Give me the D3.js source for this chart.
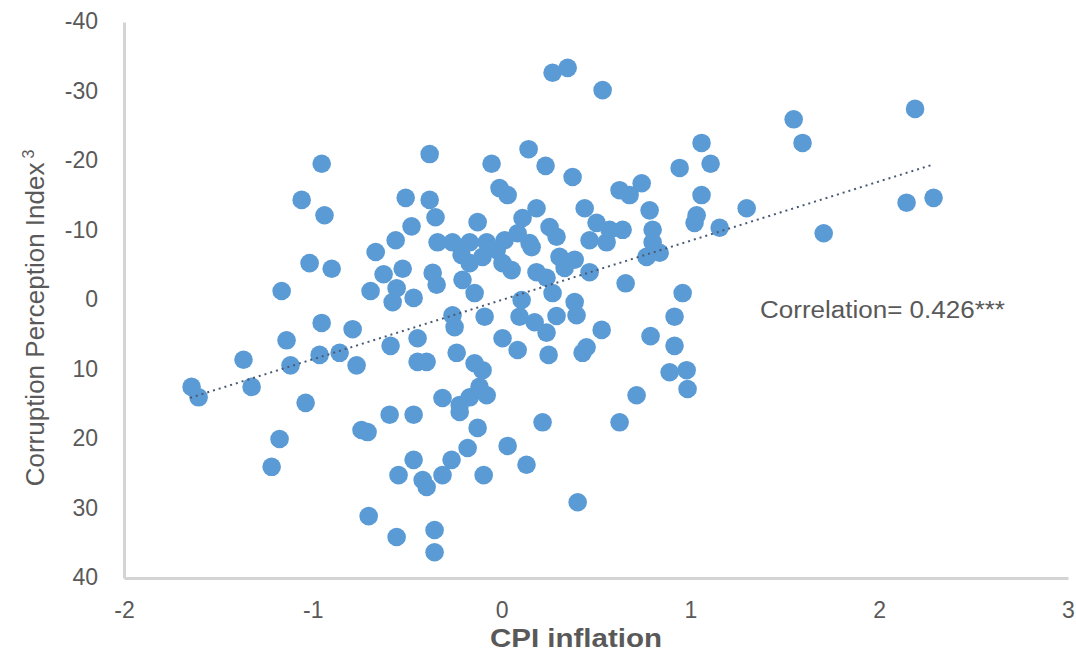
<!DOCTYPE html>
<html>
<head>
<meta charset="utf-8">
<script src="https://cdn.jsdelivr.net/npm/d3@7"></script>
<style>
  html, body { margin: 0; padding: 0; background: #ffffff; }
  svg { display: block; }
  text { font-family: "Liberation Sans", Arial, sans-serif; fill: #595959; }
</style>
</head>
<body>
<div id="chart"></div>
<script>
// ---- data ----
const cpiInflation = [
  0.27, 0.35, 0.535, 2.19, 1.547, 1.594, 1.059, 0.143, -0.381, -0.953,
  -0.053, 0.233, 1.107, 0.943, 0.376, 0.742, 0.625, 0.678, -0.011, 0.032,
  -0.508, -1.059, -0.381, 1.298, 2.145, 2.288, 1.059, -0.938, -0.350, 0.440,
  0.185, 0.111, -0.127, 0.784, 1.033, 1.022, 1.155, 1.706, -0.477, -0.561,
  -0.339, -0.260, -0.169, -0.079, 0.085, 0.148, 0.254, 0.291, 0.503, 0.572,
  0.556, 0.466, 0.641, 0.800, 0.800, -0.667, -1.017, -0.900, -0.625, -0.524,
  -0.365, -0.344, -1.165, -0.694, -0.556, -0.577, -0.466, -0.953, -0.260, -0.169,
  -0.101, 0.005, 0.053, 0.159, 0.307, 0.387, 0.185, 0.238, 0.466, 0.768,
  0.837, -0.207, -0.143, -0.090, -0.249, 0.106, 0.095, 0.175, 0.238, 0.270,
  0.387, 0.397, 0.291, 0.530, 0.005, 0.085, 0.249, 0.450, 0.429, 0.657,
  0.959, 0.916, 0.789, 0.916, 0.890, 0.980, 0.985, 0.715, -0.238, -0.143,
  -0.101, -0.117, -0.079, -0.169, -0.222, 0.217, 0.625, -0.127, -1.642, -1.605,
  -1.324, -1.367, -1.139, -1.118, -0.789, -0.964, -0.858, -0.768, -0.588, -0.445,
  -0.445, -0.397, -1.038, -0.593, -0.466, -0.742, -0.710, -1.176, -1.218, -0.313,
  -0.222, -0.180, 0.032, -0.466, -0.265, -0.546, -0.418, -0.397, -0.313, -0.095,
  0.132, 0.403, -0.704, -0.556, -0.355, -0.355, -0.026, 0.016, -0.212, 0.334
];
const corruptionIndex = [
  -32.7, -33.4, -30.2, -27.5, -26.0, -22.6, -22.6, -21.7, -21.0, -19.6,
  -19.6, -19.3, -19.6, -19.0, -17.7, -16.8, -15.8, -15.1, -16.1, -15.1,
  -14.7, -14.4, -14.4, -13.2, -14.0, -14.7, -15.1, -12.2, -11.9, -13.2,
  -13.2, -11.8, -11.2, -12.9, -12.2, -11.1, -10.4, -9.6, -10.6, -8.6,
  -8.3, -8.3, -8.3, -8.3, -9.6, -8.2, -10.5, -9.1, -11.1, -10.1,
  -8.3, -8.6, -10.1, -10.1, -8.3, -6.9, -5.3, -4.5, -3.7, -4.5,
  -3.9, -2.2, -1.3, -1.3, -1.7, 0.3, -0.3, 3.3, 2.2, -5.3,
  -6.2, -5.3, -4.3, -7.6, -6.2, -5.8, -4.0, -3.2, -4.0, -6.2,
  -6.8, -2.9, -1.0, 2.4, 3.9, 0.0, 2.4, 3.2, 4.7, -1.0,
  0.3, 2.2, 2.3, 4.3, 5.5, 7.2, 7.9, 6.8, 7.6, -2.4,
  -1.0, 2.4, 5.2, 6.6, 10.4, 10.1, 12.8, 13.7, 7.6, 9.1,
  10.1, 12.5, 13.7, 14.0, 15.1, 17.6, 17.6, 18.4, 12.5, 14.0,
  12.5, 8.6, 5.8, 9.4, 4.2, 7.9, 7.6, 9.4, 6.6, 5.5,
  8.9, 8.9, 14.8, 16.5, 16.5, 18.7, 19.0, 20.0, 24.0, 14.1,
  16.1, 21.3, 21.0, 23.0, 23.0, 25.2, 25.9, 26.9, 25.2, 25.2,
  23.7, 29.1, 31.1, 34.1, 33.1, 36.3, -7.2, -8.6, -6.5, -4.6
];
const xTicks = [-2, -1, 0, 1, 2, 3];
const yTicks = [-40, -30, -20, -10, 0, 10, 20, 30, 40];
const trendX = [-1.65, 2.28];
const trendSlope = -8.53;
const trendIntercept = 0.0;
const xTitle = "CPI inflation";
const yTitle = "Corruption Perception Index";
const yTitleSup = "3";
const corrLabel = "Correlation=  0.426***";

// ---- drawing ----
const W = 1076, H = 655;
const svg = d3.select("#chart").append("svg").attr("width", W).attr("height", H);

const x = d3.scaleLinear().domain([-2, 3]).range([124, 1068]);
const y = d3.scaleLinear().domain([-40, 40]).range([22, 578]);

const plainNum = d => String(d);

// axes
const xAxis = d3.axisBottom(x).tickValues(xTicks).tickSize(0).tickPadding(24).tickFormat(plainNum);
const yAxis = d3.axisLeft(y).tickValues(yTicks).tickSize(0).tickPadding(26).tickFormat(plainNum);

const gx = svg.append("g").attr("transform", `translate(0,${y(40)})`).call(xAxis);
const gy = svg.append("g").attr("transform", `translate(${x(-2)},0)`).call(yAxis);
[gx, gy].forEach(g => {
  g.select(".domain").attr("stroke", "#d4d4d4").attr("stroke-width", 3);
  g.selectAll("text").style("font-family", '"Liberation Sans", Arial, sans-serif')
    .style("font-size", "23px").attr("fill", "#595959");
});
gy.selectAll("text").attr("dy", "0.3em");

// points
const pts = cpiInflation.map((v, i) => ({ x: v, y: corruptionIndex[i] }));
svg.append("g").selectAll("circle").data(pts).join("circle")
  .attr("cx", d => x(d.x)).attr("cy", d => y(d.y)).attr("r", 9.3)
  .attr("fill", "#5b9bd5");

// trend line
const line = d3.line().x(d => x(d)).y(d => y(trendIntercept + trendSlope * d));
svg.append("path").datum(trendX).attr("d", line)
  .attr("fill", "none").attr("stroke", "#4a5a75").attr("stroke-width", 2)
  .attr("stroke-dasharray", "2 4");

// correlation label
svg.append("text").attr("x", 760).attr("y", 318)
  .attr("textLength", 245).attr("lengthAdjust", "spacingAndGlyphs")
  .style("font-size", "23px").text(corrLabel);

// axis titles
svg.append("text").attr("x", 576).attr("y", 647).attr("text-anchor", "middle")
  .style("font-size", "25px").style("font-weight", "bold")
  .attr("textLength", 172).attr("lengthAdjust", "spacingAndGlyphs")
  .text(xTitle);

const yt = svg.append("text").attr("transform", "translate(44,318) rotate(-90)")
  .attr("text-anchor", "middle").style("font-size", "26px");
yt.append("tspan").text(yTitle);
yt.append("tspan").attr("dx", 4).attr("dy", -10).style("font-size", "16px").text(yTitleSup);
</script>
</body>
</html>
